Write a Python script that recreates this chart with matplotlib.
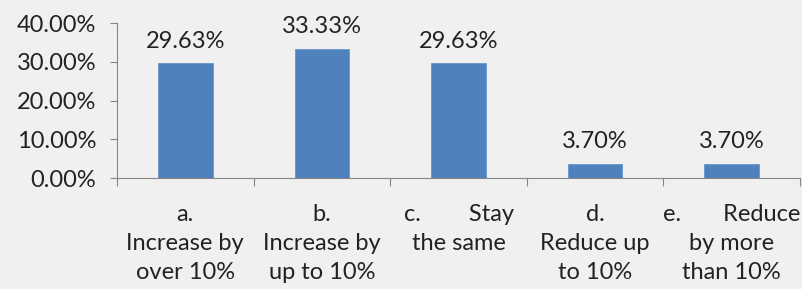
import matplotlib
matplotlib.use("Agg")
import matplotlib.pyplot as plt
import numpy as np
from matplotlib.ticker import FuncFormatter

categories = ["a.\nIncrease by\nover 10%", "b.\nIncrease by\nup to 10%",
              "c.        Stay\nthe same", "d.\nReduce up\nto 10%",
              "e.       Reduce\nby more\nthan 10%"]
values = [29.63, 33.33, 29.63, 3.70, 3.70]
yticks = [0, 10, 20, 30, 40]

bg = "#f0f0f0"
axcol = "#868686"
plt.rcParams['font.family'] = ['Lato', 'DejaVu Sans']
fs = 17

fig = plt.figure(figsize=(8.02, 2.89), dpi=100, facecolor=bg)
ax = fig.add_axes([0.1459, 0.384, 0.8516, 0.536])
ax.set_facecolor(bg)
x = np.arange(len(values))
ax.bar(x, values, width=0.4, color="#4f81bd", edgecolor="#6a96cc", linewidth=0.6)
for xi, v in zip(x, values):
    ax.text(xi, v + 3.0, f"{v:.2f}%", ha="center", va="bottom", fontsize=fs, color="#222222")

ax.set_xlim(-0.5, len(values) - 0.5)
ax.set_ylim(0, 40)
ax.set_yticks(yticks)
ax.yaxis.set_major_formatter(FuncFormatter(lambda v, p: f"{v:.2f}%"))
ax.set_xticks(x)
ax.set_xticklabels(categories, fontsize=fs, linespacing=1.45, color="#222222")
ax.set_xticks(np.arange(-0.5, len(values)), minor=True)
ax.tick_params(axis="x", which="major", length=0, pad=19)
ax.tick_params(axis="x", which="minor", length=6, width=0.8, color=axcol, direction="out")
ax.tick_params(axis="y", length=5, width=0.8, color=axcol, labelsize=fs, labelcolor="#222222", pad=10)
for s in ["top", "right"]:
    ax.spines[s].set_visible(False)
for s in ["left", "bottom"]:
    ax.spines[s].set_color(axcol)
    ax.spines[s].set_linewidth(0.8)

fig.savefig("out.png", dpi=100, facecolor=bg)
